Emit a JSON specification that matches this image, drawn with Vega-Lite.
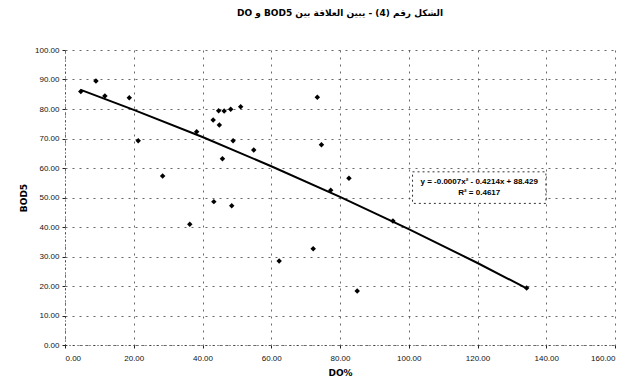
{
  "$schema": "https://vega.github.io/schema/vega-lite/v6.json",
  "autosize": "none",
  "width": 550,
  "height": 295,
  "padding": {"left": 65, "top": 50, "right": 27, "bottom": 36},
  "background": "white",
  "title": {
    "text": "\u202bالشكل رقم (4) - يبين العلاقة بين BOD5 و DO\u202c",
    "fontSize": 9,
    "font": "DejaVu Sans",
    "fontWeight": "bold",
    "color": "black",
    "anchor": "middle",
    "offset": 28
  },
  "config": {
    "view": {"stroke": null},
    "axis": {
      "labelFont": "Liberation Sans",
      "labelFontSize": 8,
      "labelColor": "#111",
      "labelOverlap": false,
      "titleFont": "DejaVu Sans",
      "titleFontSize": 9,
      "titleFontWeight": "bold",
      "titleColor": "black",
      "gridColor": "#444",
      "gridDash": [2, 5],
      "gridWidth": 1,
      "gridOpacity": 0.8,
      "domainColor": "#222",
      "domainDash": [1, 3],
      "tickColor": "#222",
      "tickSize": 3
    }
  },
  "encoding": {
    "x": {
      "field": "do", "type": "quantitative",
      "scale": {"domain": [0, 160], "nice": false, "zero": false},
      "axis": {"values": [0, 20, 40, 60, 80, 100, 120, 140, 160], "format": ".2f", "title": "DO%", "labelPadding": 6, "titlePadding": 6}
    },
    "y": {
      "field": "bod", "type": "quantitative",
      "scale": {"domain": [0, 100], "nice": false},
      "axis": {"values": [0, 10, 20, 30, 40, 50, 60, 70, 80, 90, 100], "format": ".2f", "title": "BOD5", "labelPadding": 3, "titlePadding": 6}
    }
  },
  "layer": [
    {
      "data": {"values": [
        {"do": 4.6, "bod": 85.9}, {"do": 9.0, "bod": 89.5}, {"do": 11.6, "bod": 84.4},
        {"do": 18.7, "bod": 83.8}, {"do": 21.3, "bod": 69.2}, {"do": 28.4, "bod": 57.3},
        {"do": 38.3, "bod": 72.3}, {"do": 43.1, "bod": 76.3}, {"do": 44.9, "bod": 74.6},
        {"do": 44.7, "bod": 79.4}, {"do": 46.3, "bod": 79.3}, {"do": 48.2, "bod": 79.9},
        {"do": 51.1, "bod": 80.8}, {"do": 48.9, "bod": 69.2}, {"do": 45.8, "bod": 63.1},
        {"do": 54.9, "bod": 66.1}, {"do": 43.3, "bod": 48.6}, {"do": 48.5, "bod": 47.2},
        {"do": 36.3, "bod": 40.9}, {"do": 62.3, "bod": 28.5}, {"do": 72.2, "bod": 32.6},
        {"do": 74.6, "bod": 67.9}, {"do": 82.6, "bod": 56.5}, {"do": 77.3, "bod": 52.5},
        {"do": 85.0, "bod": 18.3}, {"do": 95.4, "bod": 42.0}, {"do": 73.4, "bod": 84.0},
        {"do": 134.3, "bod": 19.3}
      ]},
      "mark": {"type": "point", "shape": "diamond", "filled": true, "color": "black", "size": 30, "opacity": 1}
    },
    {
      "data": {"values": [
        {"do": 4.6, "bod": 86.5}, {"do": 20, "bod": 79.7}, {"do": 40, "bod": 70.5},
        {"do": 60, "bod": 60.6}, {"do": 80, "bod": 50.2}, {"do": 100, "bod": 39.3},
        {"do": 120, "bod": 27.8}, {"do": 134.3, "bod": 19.2}
      ]},
      "mark": {"type": "line", "color": "black", "strokeWidth": 2}
    },
    {
      "data": {"values": [{"do": 101.1, "do2": 139.9, "bod": 58.7, "bod2": 48.0}]},
      "mark": {"type": "rect", "fill": "white", "stroke": "#333", "strokeDash": [2, 3], "strokeWidth": 1},
      "encoding": {
        "x2": {"field": "do2"},
        "y2": {"field": "bod2"}
      }
    },
    {
      "data": {"values": [
        {"label": "y = -0.0007x² - 0.4214x + 88.429", "do": 120.5, "bod": 55.4},
        {"label": "R² = 0.4617", "do": 120.5, "bod": 51.4}
      ]},
      "mark": {"type": "text", "font": "Liberation Sans", "fontSize": 8, "fontWeight": "bold", "color": "black", "align": "center", "baseline": "middle"},
      "encoding": {
        "text": {"field": "label"}
      }
    }
  ]
}
